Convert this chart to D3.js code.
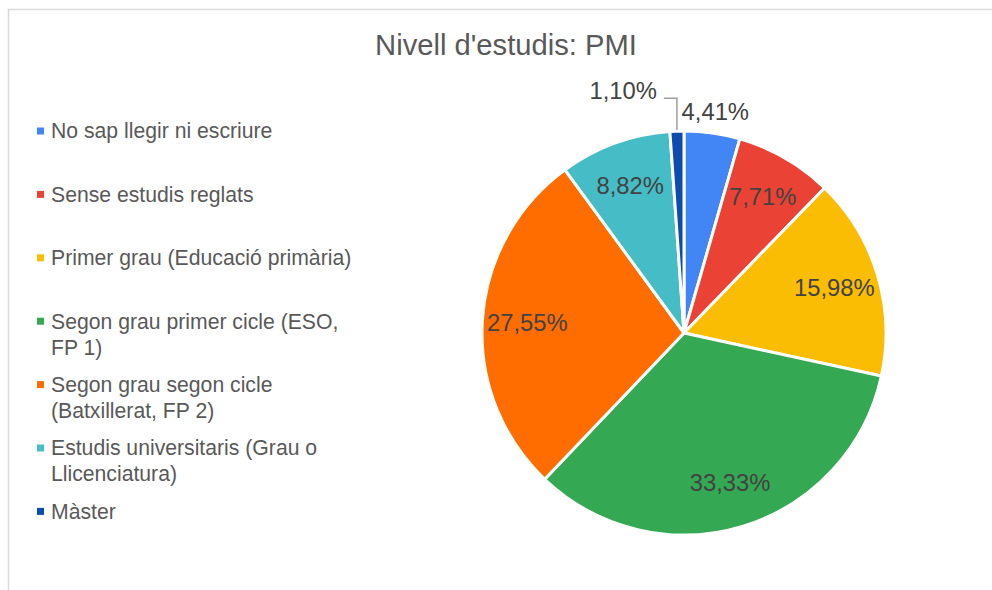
<!DOCTYPE html>
<html><head><meta charset="utf-8">
<script src="https://cdn.jsdelivr.net/npm/d3@7/dist/d3.min.js"></script>
<style>body{margin:0;background:#fff;}svg{display:block;font-family:"Liberation Sans",Arial,sans-serif;}</style>
</head><body>
<svg id="c" width="992" height="590"></svg>
<script>
const title = "Nivell d'estudis: PMI";
const categories = ["No sap llegir ni escriure","Sense estudis reglats","Primer grau (Educació primària)","Segon grau primer cicle (ESO, FP 1)","Segon grau segon cicle (Batxillerat, FP 2)","Estudis universitaris (Grau o Llicenciatura)","Màster"];
const values = [4.41, 7.71, 15.98, 33.33, 27.55, 8.82, 1.10];
const labels = ["4,41%","7,71%","15,98%","33,33%","27,55%","8,82%","1,10%"];
const colors = ["#4285F4","#EA4335","#FBBC04","#34A853","#FF6D01","#46BDC6","#0D4BAF"];

const svg = d3.select("#c");
// border
svg.append("rect").attr("x",8.5).attr("y",9.5).attr("width",1100).attr("height",1000)
  .attr("fill","none").attr("stroke","#d9d9d9").attr("stroke-width",1.5);

svg.append("text").attr("x",506).attr("y",55).attr("text-anchor","middle")
  .attr("font-size",29.2).attr("fill","#595959").text(title);

const cx=684, cy=333, R=202;
const g = svg.append("g").attr("transform",`translate(${cx},${cy})`);
const pie = d3.pie().sort(null).value(d=>d);
const arcs = pie(values);
const arc = d3.arc().innerRadius(0).outerRadius(R);
g.selectAll("path.s").data(arcs).join("path").attr("class","s")
  .attr("d",arc).attr("fill",(d,i)=>colors[i]).attr("stroke","#fff").attr("stroke-width",3).attr("stroke-linejoin","round");

const labelArc = d3.arc().innerRadius(157).outerRadius(157);
const outArc = d3.arc().innerRadius(R+22).outerRadius(R+22);
arcs.forEach((d,i)=>{
  const frac = values[i]/d3.sum(values);
  if (frac > 0.06) {
    const [x,y] = labelArc.centroid(d);
    g.append("text").attr("x",x).attr("y",y).attr("dy","0.35em").attr("text-anchor","middle")
      .attr("font-size",23.8).attr("fill","#424242").text(labels[i]);
  } else if (frac > 0.02) {
    const [x,y] = outArc.centroid(d);
    g.append("text").attr("x",x).attr("y",y).attr("dy","0.35em").attr("text-anchor","middle")
      .attr("font-size",23.8).attr("fill","#424242").text(labels[i]);
  } else {
    const p0 = d3.arc().innerRadius(R+1).outerRadius(R+1).centroid(d);
    const p1 = d3.arc().innerRadius(R+33).outerRadius(R+33).centroid(d);
    const p2 = [p0[0]-13, p1[1]];
    g.append("polyline").attr("points",[[p0[0],p0[1]],[p0[0],p1[1]],p2].map(p=>p.join(",")).join(" "))
      .attr("fill","none").attr("stroke","#9e9e9e").attr("stroke-width",1.5);
    g.append("text").attr("x",p2[0]-7).attr("y",p2[1]-7).attr("dy","0.35em").attr("text-anchor","end")
      .attr("font-size",23.8).attr("fill","#424242").text(labels[i]);
  }
});

// legend
const lg = svg.append("g");
const maxW = 308;
categories.forEach((c,i)=>{
  const y0 = 131 + i*63.4;
  lg.append("rect").attr("x",37).attr("y",y0-3.5).attr("width",7).attr("height",7).attr("fill",colors[i]);
  const t = lg.append("text").attr("font-size",21.2).attr("fill","#595959");
  const words = c.split(" ");
  let line = [], ln = 0;
  let ts = t.append("tspan").attr("x",51).attr("y",y0).attr("dy","0.35em");
  words.forEach(w=>{
    line.push(w);
    ts.text(line.join(" "));
    if (ts.node().getComputedTextLength() > maxW && line.length>1) {
      line.pop(); ts.text(line.join(" "));
      line=[w]; ln++;
      ts = t.append("tspan").attr("x",51).attr("y",y0+ln*26).attr("dy","0.35em").text(w);
    }
  });
});
</script>
</body></html>
